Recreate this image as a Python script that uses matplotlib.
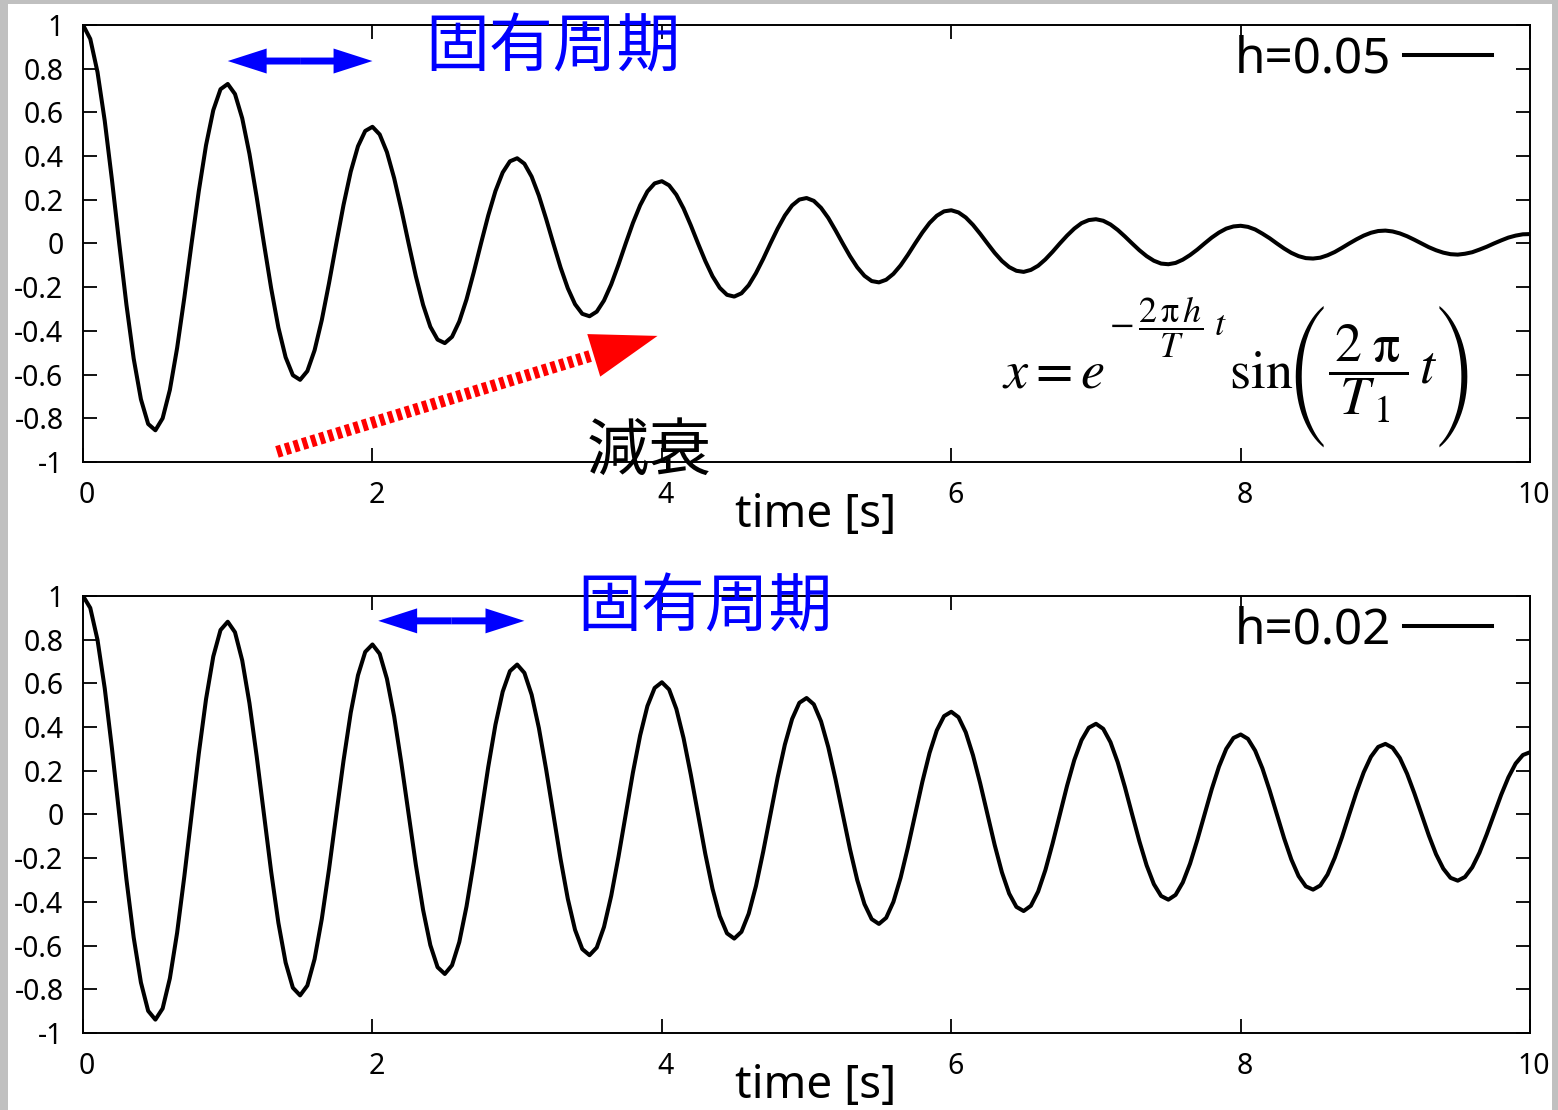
import matplotlib
matplotlib.use("Agg")
import matplotlib.pyplot as plt
from matplotlib.patches import Rectangle
from matplotlib.transforms import ScaledTranslation

plt.rcParams['font.family'] = ['Noto Sans', 'Noto Sans CJK JP', 'DejaVu Sans']

# sample times [s]
time = [
    0.00, 0.05, 0.10, 0.15, 0.20, 0.25, 0.30, 0.35, 0.40, 0.45,
    0.50, 0.55, 0.60, 0.65, 0.70, 0.75, 0.80, 0.85, 0.90, 0.95,
    1.00, 1.05, 1.10, 1.15, 1.20, 1.25, 1.30, 1.35, 1.40, 1.45,
    1.50, 1.55, 1.60, 1.65, 1.70, 1.75, 1.80, 1.85, 1.90, 1.95,
    2.00, 2.05, 2.10, 2.15, 2.20, 2.25, 2.30, 2.35, 2.40, 2.45,
    2.50, 2.55, 2.60, 2.65, 2.70, 2.75, 2.80, 2.85, 2.90, 2.95,
    3.00, 3.05, 3.10, 3.15, 3.20, 3.25, 3.30, 3.35, 3.40, 3.45,
    3.50, 3.55, 3.60, 3.65, 3.70, 3.75, 3.80, 3.85, 3.90, 3.95,
    4.00, 4.05, 4.10, 4.15, 4.20, 4.25, 4.30, 4.35, 4.40, 4.45,
    4.50, 4.55, 4.60, 4.65, 4.70, 4.75, 4.80, 4.85, 4.90, 4.95,
    5.00, 5.05, 5.10, 5.15, 5.20, 5.25, 5.30, 5.35, 5.40, 5.45,
    5.50, 5.55, 5.60, 5.65, 5.70, 5.75, 5.80, 5.85, 5.90, 5.95,
    6.00, 6.05, 6.10, 6.15, 6.20, 6.25, 6.30, 6.35, 6.40, 6.45,
    6.50, 6.55, 6.60, 6.65, 6.70, 6.75, 6.80, 6.85, 6.90, 6.95,
    7.00, 7.05, 7.10, 7.15, 7.20, 7.25, 7.30, 7.35, 7.40, 7.45,
    7.50, 7.55, 7.60, 7.65, 7.70, 7.75, 7.80, 7.85, 7.90, 7.95,
    8.00, 8.05, 8.10, 8.15, 8.20, 8.25, 8.30, 8.35, 8.40, 8.45,
    8.50, 8.55, 8.60, 8.65, 8.70, 8.75, 8.80, 8.85, 8.90, 8.95,
    9.00, 9.05, 9.10, 9.15, 9.20, 9.25, 9.30, 9.35, 9.40, 9.45,
    9.50, 9.55, 9.60, 9.65, 9.70, 9.75, 9.80, 9.85, 9.90, 9.95,
    10.00]

# response, h=0.05 (one row per second)
resp_h005 = [
    1.000, 0.936, 0.784, 0.561, 0.290, 0.000, -0.281, -0.527, -0.713, -0.826,
    -0.855, -0.800, -0.670, -0.479, -0.248, 0.000, 0.240, 0.450, 0.610, 0.706,
    0.730, 0.684, 0.573, 0.410, 0.212, 0.000, -0.205, -0.385, -0.521, -0.603,
    -0.624, -0.584, -0.489, -0.350, -0.181, 0.000, 0.176, 0.329, 0.445, 0.515,
    0.534, 0.499, 0.418, 0.299, 0.155, 0.000, -0.150, -0.281, -0.381, -0.440,
    -0.456, -0.427, -0.357, -0.256, -0.132, 0.000, 0.128, 0.240, 0.325, 0.376,
    0.390, 0.365, 0.306, 0.219, 0.113, 0.000, -0.110, -0.205, -0.278, -0.322,
    -0.333, -0.312, -0.261, -0.187, -0.097, 0.000, 0.094, 0.175, 0.238, 0.275,
    0.285, 0.266, 0.223, 0.160, 0.083, 0.000, -0.080, -0.150, -0.203, -0.235,
    -0.243, -0.228, -0.191, -0.136, -0.071, 0.000, 0.068, 0.128, 0.174, 0.201,
    0.208, 0.195, 0.163, 0.117, 0.060, 0.000, -0.058, -0.109, -0.148, -0.172,
    -0.178, -0.166, -0.139, -0.100, -0.052, 0.000, 0.050, 0.094, 0.127, 0.147,
    0.152, 0.142, 0.119, 0.085, 0.044, 0.000, -0.043, -0.080, -0.108, -0.125,
    -0.130, -0.121, -0.102, -0.073, -0.038, 0.000, 0.036, 0.068, 0.093, 0.107,
    0.111, 0.104, 0.087, 0.062, 0.032, 0.000, -0.031, -0.058, -0.079, -0.092,
    -0.095, -0.089, -0.074, -0.053, -0.028, 0.000, 0.027, 0.050, 0.068, 0.078,
    0.081, 0.076, 0.064, 0.045, 0.024, 0.000, -0.023, -0.043, -0.058, -0.067,
    -0.069, -0.065, -0.054, -0.039, -0.020, 0.000, 0.019, 0.036, 0.049, 0.057,
    0.059, 0.055, 0.046, 0.033, 0.017, 0.000, -0.017, -0.031, -0.042, -0.049,
    -0.051, -0.047, -0.040, -0.028, -0.015, 0.000, 0.014, 0.027, 0.036, 0.042,
    0.043]

# response, h=0.02 (one row per second)
resp_h002 = [
    1.000, 0.945, 0.799, 0.577, 0.301, 0.000, -0.298, -0.563, -0.769, -0.899,
    -0.939, -0.888, -0.750, -0.542, -0.283, 0.000, 0.279, 0.528, 0.723, 0.844,
    0.882, 0.834, 0.705, 0.509, 0.266, 0.000, -0.262, -0.496, -0.678, -0.793,
    -0.828, -0.783, -0.662, -0.478, -0.250, 0.000, 0.246, 0.466, 0.637, 0.744,
    0.778, 0.735, 0.621, 0.449, 0.234, 0.000, -0.231, -0.437, -0.598, -0.699,
    -0.730, -0.690, -0.584, -0.421, -0.220, 0.000, 0.217, 0.411, 0.562, 0.656,
    0.686, 0.648, 0.548, 0.396, 0.207, 0.000, -0.204, -0.386, -0.528, -0.616,
    -0.644, -0.609, -0.515, -0.372, -0.194, 0.000, 0.192, 0.362, 0.496, 0.579,
    0.605, 0.572, 0.483, 0.349, 0.182, 0.000, -0.180, -0.340, -0.465, -0.544,
    -0.568, -0.537, -0.454, -0.328, -0.171, 0.000, 0.169, 0.320, 0.437, 0.511,
    0.533, 0.504, 0.426, 0.308, 0.161, 0.000, -0.159, -0.300, -0.410, -0.479,
    -0.501, -0.473, -0.400, -0.289, -0.151, 0.000, 0.149, 0.282, 0.385, 0.450,
    0.470, 0.445, 0.376, 0.271, 0.142, 0.000, -0.140, -0.265, -0.362, -0.423,
    -0.442, -0.418, -0.353, -0.255, -0.133, 0.000, 0.131, 0.249, 0.340, 0.397,
    0.415, 0.392, 0.331, 0.239, 0.125, 0.000, -0.123, -0.233, -0.319, -0.373,
    -0.390, -0.368, -0.311, -0.225, -0.117, 0.000, 0.116, 0.219, 0.300, 0.350,
    0.366, 0.346, 0.292, 0.211, 0.110, 0.000, -0.109, -0.206, -0.282, -0.329,
    -0.344, -0.325, -0.275, -0.198, -0.104, 0.000, 0.102, 0.193, 0.264, 0.309,
    0.323, 0.305, 0.258, 0.186, 0.097, 0.000, -0.096, -0.182, -0.248, -0.290,
    -0.303, -0.286, -0.242, -0.175, -0.091, 0.000, 0.090, 0.170, 0.233, 0.272,
    0.285]

x_ticks = [0, 2, 4, 6, 8, 10]
x_tick_labels = ['0', '2', '4', '6', '8', '10']
y_ticks = [1, 0.8, 0.6, 0.4, 0.2, 0, -0.2, -0.4, -0.6, -0.8, -1]
y_tick_labels = ['1', '0.8', '0.6', '0.4', '0.2', '0', '-0.2', '-0.4', '-0.6', '-0.8', '-1']

series = {'h=0.05': resp_h005, 'h=0.02': resp_h002}

# formula pieces (drawn separately so spacing and bracket size match gnuplot)
EQ_LEFT = r'$x=e$'
EQ_EXP = r'$-\,\dfrac{2\,\mathrm{\pi}\,h}{T}\,\,t$'
EQ_SIN = r'$\sin$'
EQ_FRAC = r'$\dfrac{\,2\;\mathrm{\pi}\,}{T_{\,1}}\,t$'


def StyleAxes(ax, label):
    ax.plot(time, series[label], color='black', lw=2.9, label=label)
    ax.set_xlim(0, 10)
    ax.set_ylim(-1, 1)
    ax.set_xticks(x_ticks)
    ax.set_xticklabels(x_tick_labels)
    ax.set_yticks(y_ticks)
    ax.set_yticklabels(y_tick_labels)
    ax.tick_params(direction='in', length=10, width=1.3, top=True, right=True,
                   labelsize=20.5)
    ax.tick_params(axis='x', pad=14)
    ax.tick_params(axis='y', pad=14)
    # gnuplot puts the x labels a few pixels right of the tick
    shift = ScaledTranslation(4 / 100, 0, ax.figure.dpi_scale_trans)
    for lab in ax.get_xticklabels():
        lab.set_transform(lab.get_transform() + shift)
    for s in ax.spines.values():
        s.set_linewidth(1.4)
    ax.set_xlabel('time [s]', fontsize=33)
    ax.xaxis.set_label_coords(0.506, -0.148)
    ax.xaxis.label.set_verticalalignment('baseline')
    ax.legend(loc='upper right', bbox_to_anchor=(0.974, 0.978), frameon=False,
              markerfirst=False, fontsize=35.5, handlelength=1.8,
              handletextpad=0.25, borderpad=0, borderaxespad=0)


def DoubleArrow(ax, x0, x1, y):
    mid = (x0 + x1) / 2
    for end in (x0, x1):
        ax.annotate('', xy=(end, y), xytext=(mid, y),
                    arrowprops=dict(arrowstyle='simple,head_length=28,head_width=18,tail_width=5',
                                    mutation_scale=1, color='blue', lw=0,
                                    shrinkA=0, shrinkB=0))


fig = plt.figure(figsize=(15.58, 11.1), dpi=100)
ax1 = fig.add_axes([0.0533, 0.5838, 0.9288, 0.3937])
ax2 = fig.add_axes([0.0533, 0.0694, 0.9288, 0.3937])

StyleAxes(ax1, 'h=0.05')
StyleAxes(ax2, 'h=0.02')

# natural period markers
DoubleArrow(ax1, 1.0, 2.0, 0.835)
ax1.text(3.25, 0.887, '固有周期', color='blue', fontsize=46, ha='center', va='center')
DoubleArrow(ax2, 2.04, 3.05, 0.886)
ax2.text(4.30, 0.937, '固有周期', color='blue', fontsize=46, ha='center', va='center')

# decay arrow
ax1.plot([1.34, 3.53], [-0.954, -0.51], color='red', lw=8.6,
         linestyle=(0, (0.42, 0.33)), dash_capstyle='butt')
ax1.annotate('', xy=(3.97, -0.423), xytext=(1.34, -0.954),
             arrowprops=dict(arrowstyle='simple,head_length=48,head_width=32,tail_width=0',
                             mutation_scale=1, color='red', lw=0,
                             shrinkA=0, shrinkB=0))
ax1.text(3.91, -0.962, '減衰', color='black', fontsize=45, ha='center', va='center')

# formula
ax1.text(6.35, -0.657, EQ_LEFT, fontsize=39, math_fontfamily='stix',
         ha='left', va='baseline')
ax1.text(7.09, -0.385, EQ_EXP, fontsize=26, math_fontfamily='stix',
         ha='left', va='center')
ax1.text(7.92, -0.661, EQ_SIN, fontsize=39, math_fontfamily='stix',
         ha='left', va='baseline')
ax1.text(8.60, -0.596, EQ_FRAC, fontsize=39, math_fontfamily='stix',
         ha='left', va='center')
ax1.text(8.595, -0.606, '(', fontsize=33, family='STIXSizeFourSym',
         ha='right', va='center')
ax1.text(9.35, -0.606, ')', fontsize=33, family='STIXSizeFourSym',
         ha='left', va='center')

# grey frame
for x, y, w, h in [(0, 0, 8 / 1558, 1), (0, 1 - 4 / 1110, 1, 4 / 1110),
                   (1552 / 1558, 0, 6 / 1558, 1)]:
    fig.add_artist(Rectangle((x, y), w, h, transform=fig.transFigure,
                             color='#c0c0c0', lw=0))

fig.savefig('out.png', dpi=100)
